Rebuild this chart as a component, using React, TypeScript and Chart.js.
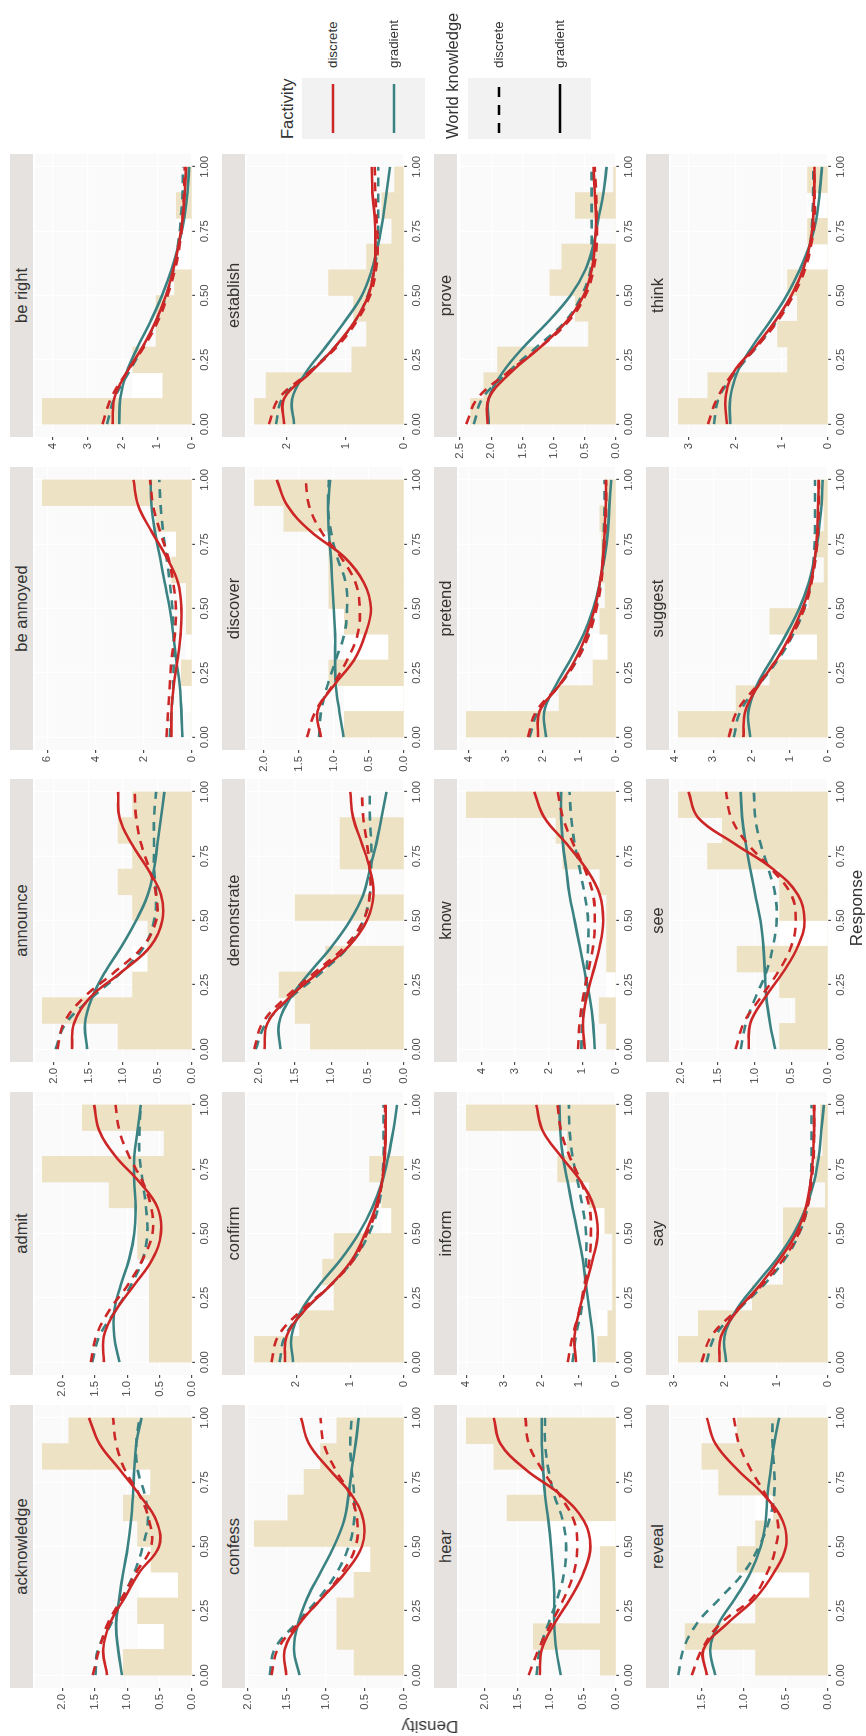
import React, { useEffect, useRef } from "react";
import { Chart, registerables } from "chart.js";

Chart.register(...registerables);

// ---------- data ----------
const verbs: string[] = [
  "acknowledge", "admit", "announce", "be annoyed", "be right",
  "confess", "confirm", "demonstrate", "discover", "establish",
  "hear", "inform", "know", "pretend", "prove",
  "reveal", "say", "see", "suggest", "think",
];

// response values where the density curves are sampled
const responseGrid: number[] = [0, 0.1, 0.2, 0.3, 0.4, 0.5, 0.6, 0.7, 0.8, 0.9, 1];
// histogram bin centres (bin width 0.1)
const binCenters: number[] = [0.05, 0.15, 0.25, 0.35, 0.45, 0.55, 0.65, 0.75, 0.85, 0.95];
const xTickValues: number[] = [0, 0.25, 0.5, 0.75, 1];

// observed-response histogram (density) per verb
const histogram: number[][] = [
  [1.06, 0.43, 0.84, 0.21, 0.63, 0.84, 1.06, 0.64, 2.31, 1.90],
  [0.66, 0.66, 0.66, 0.66, 0.84, 0.84, 1.28, 2.31, 0.43, 1.69],
  [1.07, 2.17, 0.86, 0.64, 0.64, 0.86, 1.07, 0.86, 1.07, 0.86],
  [0.0, 0.0, 0.44, 0.0, 0.23, 0.23, 0.85, 0.65, 1.50, 6.21],
  [4.30, 0.84, 1.70, 1.03, 1.03, 0.50, 0.0, 0.0, 0.45, 0.15],
  [0.64, 0.86, 0.86, 0.64, 0.43, 1.92, 1.49, 1.28, 1.07, 0.86],
  [2.78, 1.94, 1.30, 1.51, 1.30, 0.23, 0.41, 0.64, 0.0, 0.0],
  [1.29, 1.50, 1.72, 1.08, 0.0, 1.50, 0.0, 0.88, 0.88, 0.0],
  [0.85, 0.0, 1.07, 0.22, 0.85, 1.07, 1.07, 1.07, 1.71, 2.13],
  [2.56, 2.36, 0.89, 0.64, 0.86, 1.29, 0.64, 0.21, 0.38, 0.16],
  [0.24, 1.26, 0.24, 0.24, 0.24, 0.0, 1.66, 1.06, 1.86, 2.28],
  [0.49, 0.22, 0.09, 0.09, 0.09, 0.30, 0.71, 1.56, 1.30, 4.00],
  [0.28, 0.50, 0.0, 0.28, 0.28, 0.28, 0.48, 1.58, 1.78, 4.45],
  [4.07, 1.55, 0.62, 0.22, 0.44, 0.30, 0.40, 0.40, 0.44, 0.30],
  [2.33, 2.12, 1.90, 0.44, 0.65, 1.06, 0.87, 0.0, 0.65, 0.04],
  [0.86, 1.70, 0.86, 0.22, 1.08, 0.86, 0.65, 1.30, 1.50, 1.08],
  [2.91, 2.52, 1.47, 0.87, 0.87, 0.87, 0.05, 0.24, 0.10, 0.15],
  [0.66, 0.44, 0.66, 1.24, 0.0, 0.66, 0.66, 1.64, 1.44, 2.04],
  [3.91, 2.40, 1.52, 0.28, 1.52, 0.50, 0.10, 0.32, 0.10, 0.28],
  [3.23, 2.59, 0.87, 1.09, 0.66, 0.87, 0.0, 0.44, 0.0, 0.44],
];

// pale (white) bars visible behind the histogram
const whiteBins: number[][] = [
  [0, 0.84, 0, 0.81, 0.84, 0, 0, 0.81, 0, 0],
  [0, 0, 0, 0, 0, 0, 0, 0, 0, 0],
  [0, 0, 0, 0.86, 0, 0, 0, 0, 0, 0],
  [0, 0.44, 0, 0.23, 0, 0, 0, 1.13, 0, 0],
  [0, 1.70, 0, 0, 0, 0, 0.45, 0.45, 0, 0],
  [0, 0, 0, 0, 0.64, 0, 0, 0, 0, 0],
  [0, 0, 0, 0, 0, 0.41, 0, 0, 0, 0],
  [0, 0, 0, 0, 0, 0, 0, 0, 0, 0],
  [0, 0.85, 0, 0.85, 1.07, 0, 0, 0, 0, 0],
  [0, 0, 0, 0, 0, 0, 0, 0, 0, 0],
  [0, 0, 0, 0, 0, 1.06, 0, 0, 0, 0],
  [0, 0.49, 0, 0, 0, 0.71, 0, 0, 0, 0],
  [0, 0, 0.28, 0, 0, 0, 0, 0, 0, 0],
  [0, 0, 0, 0.62, 0, 0, 0, 0, 0, 0],
  [0, 0, 0, 0, 0, 0, 0, 0, 0, 0],
  [0, 0, 0, 0.86, 0, 0, 0.86, 0, 0, 0],
  [0, 0, 0, 0, 0, 0, 0, 0, 0, 0],
  [0, 0, 0, 0, 0.66, 0, 0, 0, 0, 0],
  [0, 0, 0, 1.52, 0, 0, 0, 0, 0, 0],
  [0, 0, 0, 0, 0, 0, 0.44, 0, 0.44, 0],
];

// Factivity discrete (red) x World knowledge gradient (solid)
const factDiscWkGrad: number[][] = [
  [1.31, 1.37, 1.27, 1.04, 0.81, 0.51, 0.55, 0.81, 1.12, 1.43, 1.59],
  [1.36, 1.36, 1.18, 0.89, 0.61, 0.48, 0.53, 0.81, 1.18, 1.43, 1.51],
  [1.74, 1.71, 1.48, 1.02, 0.60, 0.43, 0.45, 0.64, 0.88, 1.05, 1.07],
  [0.85, 0.85, 0.76, 0.60, 0.47, 0.44, 0.58, 1.06, 1.68, 2.23, 2.43],
  [2.28, 2.23, 1.88, 1.42, 1.04, 0.75, 0.54, 0.38, 0.27, 0.21, 0.17],
  [1.51, 1.53, 1.34, 1.05, 0.75, 0.54, 0.52, 0.67, 0.96, 1.22, 1.32],
  [2.21, 2.18, 1.85, 1.36, 0.96, 0.72, 0.53, 0.41, 0.36, 0.34, 0.34],
  [1.92, 1.88, 1.58, 1.17, 0.76, 0.51, 0.42, 0.47, 0.58, 0.70, 0.74],
  [1.18, 1.23, 1.00, 0.71, 0.55, 0.47, 0.57, 0.85, 1.33, 1.66, 1.81],
  [2.05, 2.05, 1.60, 1.18, 0.84, 0.61, 0.51, 0.49, 0.50, 0.54, 0.55],
  [1.16, 1.13, 0.94, 0.69, 0.49, 0.39, 0.49, 0.84, 1.38, 1.76, 1.86],
  [1.07, 1.11, 0.98, 0.80, 0.62, 0.49, 0.58, 0.93, 1.47, 1.96, 2.13],
  [0.93, 0.98, 0.88, 0.68, 0.48, 0.38, 0.48, 0.88, 1.48, 2.13, 2.43],
  [2.12, 2.08, 1.55, 1.11, 0.80, 0.58, 0.44, 0.35, 0.31, 0.28, 0.27],
  [2.06, 2.04, 1.69, 1.21, 0.79, 0.52, 0.39, 0.34, 0.32, 0.34, 0.36],
  [1.44, 1.48, 1.20, 0.86, 0.64, 0.50, 0.54, 0.76, 1.08, 1.34, 1.44],
  [2.11, 2.08, 1.76, 1.32, 0.94, 0.62, 0.43, 0.34, 0.29, 0.27, 0.27],
  [1.08, 1.06, 0.86, 0.61, 0.41, 0.32, 0.41, 0.75, 1.28, 1.77, 1.90],
  [2.21, 2.16, 1.82, 1.35, 0.97, 0.67, 0.45, 0.34, 0.28, 0.26, 0.24],
  [2.18, 2.21, 2.04, 1.57, 1.14, 0.79, 0.54, 0.39, 0.32, 0.30, 0.29],
];

// Factivity discrete (red) x World knowledge discrete (dashed)
const factDiscWkDisc: number[][] = [
  [1.53, 1.43, 1.30, 1.08, 0.86, 0.63, 0.66, 0.81, 1.04, 1.17, 1.22],
  [1.56, 1.48, 1.28, 0.99, 0.76, 0.61, 0.63, 0.76, 0.97, 1.12, 1.18],
  [1.95, 1.86, 1.57, 1.12, 0.71, 0.52, 0.52, 0.62, 0.74, 0.81, 0.83],
  [1.06, 0.99, 0.92, 0.85, 0.71, 0.67, 0.78, 0.99, 1.33, 1.61, 1.74],
  [2.57, 2.33, 1.88, 1.38, 0.98, 0.70, 0.49, 0.35, 0.27, 0.23, 0.21],
  [1.70, 1.62, 1.36, 1.05, 0.79, 0.62, 0.60, 0.69, 0.88, 1.03, 1.07],
  [2.46, 2.34, 1.91, 1.36, 0.93, 0.69, 0.50, 0.41, 0.36, 0.35, 0.35],
  [2.06, 1.95, 1.63, 1.22, 0.81, 0.56, 0.47, 0.47, 0.51, 0.56, 0.58],
  [1.38, 1.26, 1.02, 0.81, 0.66, 0.63, 0.69, 0.90, 1.18, 1.35, 1.40],
  [2.31, 2.14, 1.63, 1.15, 0.81, 0.58, 0.48, 0.45, 0.47, 0.49, 0.50],
  [1.33, 1.18, 0.99, 0.79, 0.64, 0.59, 0.64, 0.86, 1.13, 1.33, 1.38],
  [1.29, 1.16, 0.98, 0.84, 0.71, 0.67, 0.71, 0.93, 1.24, 1.47, 1.56],
  [1.13, 1.08, 0.98, 0.83, 0.68, 0.63, 0.68, 0.93, 1.28, 1.58, 1.73],
  [2.39, 2.17, 1.55, 1.06, 0.73, 0.53, 0.40, 0.34, 0.29, 0.27, 0.27],
  [2.40, 2.22, 1.74, 1.21, 0.76, 0.49, 0.36, 0.31, 0.31, 0.32, 0.34],
  [1.62, 1.50, 1.28, 0.90, 0.72, 0.62, 0.60, 0.74, 0.92, 1.06, 1.12],
  [2.46, 2.27, 1.79, 1.28, 0.87, 0.57, 0.40, 0.32, 0.28, 0.27, 0.27],
  [1.26, 1.15, 0.92, 0.68, 0.50, 0.44, 0.50, 0.77, 1.10, 1.32, 1.39],
  [2.59, 2.38, 1.86, 1.35, 0.92, 0.62, 0.43, 0.32, 0.26, 0.24, 0.24],
  [2.59, 2.39, 2.04, 1.54, 1.09, 0.75, 0.50, 0.36, 0.29, 0.29, 0.30],
];

// Factivity gradient (teal) x World knowledge gradient (solid)
const factGradWkGrad: number[][] = [
  [1.08, 1.14, 1.17, 1.12, 1.06, 0.99, 0.94, 0.91, 0.89, 0.86, 0.78],
  [1.12, 1.20, 1.20, 1.10, 0.97, 0.89, 0.87, 0.89, 0.89, 0.84, 0.79],
  [1.52, 1.55, 1.45, 1.26, 1.02, 0.81, 0.64, 0.55, 0.50, 0.45, 0.40],
  [0.40, 0.44, 0.51, 0.65, 0.78, 0.92, 1.13, 1.33, 1.54, 1.68, 1.72],
  [2.09, 2.06, 1.88, 1.56, 1.19, 0.86, 0.59, 0.38, 0.22, 0.13, 0.08],
  [1.34, 1.41, 1.36, 1.24, 1.07, 0.90, 0.77, 0.71, 0.67, 0.62, 0.58],
  [2.06, 2.09, 1.91, 1.57, 1.17, 0.84, 0.59, 0.41, 0.29, 0.20, 0.13],
  [1.70, 1.72, 1.56, 1.29, 0.99, 0.74, 0.56, 0.47, 0.38, 0.31, 0.24],
  [0.86, 0.92, 0.97, 0.98, 0.98, 1.00, 1.02, 1.04, 1.07, 1.08, 1.05],
  [1.88, 1.91, 1.68, 1.34, 1.01, 0.72, 0.55, 0.44, 0.36, 0.30, 0.24],
  [0.84, 0.91, 0.94, 0.94, 0.96, 0.99, 1.03, 1.08, 1.11, 1.13, 1.13],
  [0.58, 0.62, 0.71, 0.80, 0.89, 1.02, 1.16, 1.29, 1.42, 1.49, 1.51],
  [0.63, 0.68, 0.78, 0.93, 1.08, 1.23, 1.38, 1.48, 1.58, 1.63, 1.63],
  [1.90, 1.95, 1.64, 1.24, 0.88, 0.62, 0.44, 0.31, 0.22, 0.18, 0.13],
  [2.04, 2.04, 1.82, 1.48, 1.08, 0.73, 0.49, 0.36, 0.28, 0.20, 0.15],
  [1.34, 1.40, 1.30, 1.10, 0.92, 0.80, 0.74, 0.72, 0.68, 0.64, 0.58],
  [1.98, 2.01, 1.79, 1.41, 1.00, 0.67, 0.43, 0.27, 0.18, 0.13, 0.08],
  [0.72, 0.79, 0.84, 0.86, 0.88, 0.92, 0.99, 1.06, 1.12, 1.17, 1.19],
  [2.03, 2.08, 1.86, 1.48, 1.09, 0.75, 0.50, 0.34, 0.24, 0.17, 0.14],
  [2.11, 2.11, 1.96, 1.64, 1.25, 0.89, 0.61, 0.39, 0.25, 0.18, 0.13],
];

// Factivity gradient (teal) x World knowledge discrete (dashed)
const factGradWkDisc: number[][] = [
  [1.49, 1.45, 1.25, 1.07, 0.89, 0.76, 0.68, 0.73, 0.84, 0.86, 0.81],
  [1.54, 1.43, 1.18, 0.94, 0.76, 0.69, 0.71, 0.76, 0.81, 0.81, 0.79],
  [1.98, 1.83, 1.45, 1.02, 0.69, 0.55, 0.52, 0.55, 0.55, 0.55, 0.52],
  [0.92, 0.85, 0.78, 0.76, 0.76, 0.81, 0.92, 1.06, 1.20, 1.30, 1.36],
  [2.44, 2.23, 1.82, 1.41, 1.03, 0.74, 0.53, 0.40, 0.32, 0.27, 0.26],
  [1.72, 1.66, 1.39, 1.09, 0.86, 0.71, 0.64, 0.64, 0.67, 0.69, 0.67],
  [2.31, 2.21, 1.85, 1.36, 0.93, 0.65, 0.48, 0.41, 0.38, 0.38, 0.38],
  [2.04, 1.90, 1.56, 1.13, 0.76, 0.56, 0.47, 0.45, 0.45, 0.47, 0.47],
  [1.21, 1.18, 1.09, 0.97, 0.85, 0.81, 0.83, 0.95, 1.04, 1.08, 1.07],
  [2.19, 2.08, 1.63, 1.18, 0.84, 0.62, 0.51, 0.45, 0.44, 0.44, 0.44],
  [1.21, 1.16, 1.03, 0.89, 0.79, 0.76, 0.81, 0.94, 1.03, 1.08, 1.08],
  [1.16, 1.07, 0.93, 0.84, 0.80, 0.80, 0.89, 1.02, 1.16, 1.24, 1.26],
  [1.03, 1.00, 0.93, 0.88, 0.83, 0.83, 0.93, 1.08, 1.23, 1.33, 1.38],
  [2.35, 2.12, 1.55, 1.06, 0.75, 0.55, 0.42, 0.35, 0.33, 0.31, 0.31],
  [2.28, 2.14, 1.74, 1.27, 0.81, 0.55, 0.41, 0.39, 0.39, 0.39, 0.39],
  [1.78, 1.72, 1.56, 1.28, 1.00, 0.82, 0.70, 0.64, 0.64, 0.66, 0.66],
  [2.36, 2.20, 1.76, 1.25, 0.84, 0.56, 0.40, 0.34, 0.32, 0.32, 0.32],
  [1.19, 1.12, 0.99, 0.84, 0.75, 0.70, 0.72, 0.81, 0.92, 0.99, 1.01],
  [2.46, 2.29, 1.82, 1.31, 0.91, 0.62, 0.45, 0.37, 0.34, 0.34, 0.34],
  [2.46, 2.36, 2.00, 1.54, 1.11, 0.79, 0.54, 0.39, 0.34, 0.32, 0.32],
];

// y tick step per panel
const yTickStep: number[] = [
  0.5, 0.5, 0.5, 2, 1,
  0.5, 1, 0.5, 0.5, 1,
  0.5, 1, 1, 1, 0.5,
  0.5, 1, 0.5, 1, 1,
];

// ---------- styling / layout ----------
const FONT = "'Liberation Sans', Arial, Helvetica, sans-serif";
const RED = "#CD2626";
const TEAL = "#3B8282";
const BEIGE = "#EEE2C5";
const PANEL_BG = "#FAFAFA";
const STRIP_BG = "#E6E2DF";
const DARK = "#333333";
const TICK_TEXT = "#4D4D4D";

const PW = 283;
const PH = 159;
const PANEL_LEFT = [48, 361, 674, 986, 1299];
const PANEL_TOP = [33, 245, 457, 669];
const PAD_L = 40;
const PAD_T = 8;
const PAD_R = 6;
const AX_H = 24;
const CW = PAD_L + PW + PAD_R;
const CH = PAD_T + PH + AX_H;

const panelBackground = {
  id: "panelBackground",
  beforeDraw(chart: any) {
    const { ctx, chartArea: a } = chart;
    ctx.save();
    ctx.fillStyle = PANEL_BG;
    ctx.fillRect(a.left, a.top, a.right - a.left, a.bottom - a.top);
    ctx.restore();
  },
};

function Panel({ idx }: { idx: number }) {
  const ref = useRef<HTMLCanvasElement>(null);
  const row = Math.floor(idx / 5);
  const col = idx % 5;
  const left = PANEL_LEFT[col];
  const top = PANEL_TOP[row];

  useEffect(() => {
    const allValues = [
      ...histogram[idx],
      ...factDiscWkGrad[idx],
      ...factDiscWkDisc[idx],
      ...factGradWkGrad[idx],
      ...factGradWkDisc[idx],
    ];
    const yMax = 1.05 * Math.max(...allValues);
    const step = yTickStep[idx];
    const yTicks: number[] = [];
    for (let v = 0; v <= yMax + 1e-9; v += step) yTicks.push(Math.round(v * 1000) / 1000);
    const dec = step < 1 ? 1 : 0;

    const curve = (vals: number[], color: string, dashed: boolean, order: number) => ({
      type: "line" as const,
      data: responseGrid.map((x, k) => ({ x, y: vals[k] })),
      borderColor: color,
      borderWidth: 2.6,
      borderDash: dashed ? [9, 7] : [],
      pointRadius: 0,
      tension: 0.4,
      fill: false,
      order,
    });

    const chart = new Chart(ref.current as HTMLCanvasElement, {
      type: "bar",
      data: {
        datasets: [
          curve(factDiscWkGrad[idx], RED, false, 0),
          curve(factDiscWkDisc[idx], RED, true, 1),
          curve(factGradWkGrad[idx], TEAL, false, 2),
          curve(factGradWkDisc[idx], TEAL, true, 3),
          {
            type: "bar" as const,
            data: binCenters.map((x, k) => ({ x, y: histogram[idx][k] })),
            backgroundColor: BEIGE,
            borderWidth: 0,
            grouped: false,
            barPercentage: 1,
            categoryPercentage: 1,
            order: 10,
          },
          {
            type: "bar" as const,
            data: binCenters.map((x, k) => ({ x, y: whiteBins[idx][k] })),
            backgroundColor: "#FFFFFF",
            borderWidth: 0,
            grouped: false,
            barPercentage: 1,
            categoryPercentage: 1,
            order: 11,
          },
        ] as any,
      },
      options: {
        animation: false,
        responsive: false,
        devicePixelRatio: 1,
        layout: { autoPadding: false, padding: { top: PAD_T, right: PAD_R, left: 0, bottom: 0 } },
        plugins: { legend: { display: false }, tooltip: { enabled: false } },
        scales: {
          x: {
            type: "linear",
            min: -0.05,
            max: 1.05,
            offset: false,
            afterBuildTicks: (s: any) => {
              s.ticks = xTickValues.map((v) => ({ value: v }));
            },
            afterFit: (s: any) => {
              s.height = AX_H;
            },
            ticks: {
              autoSkip: false,
              maxRotation: 0,
              minRotation: 0,
              padding: 3,
              color: TICK_TEXT,
              font: { family: FONT, size: 11.3 },
              callback: (v: any) => Number(v).toFixed(2),
            },
            grid: { color: "#FFFFFF", lineWidth: 1.2, tickColor: TICK_TEXT, tickLength: 3, offset: false, drawTicks: true },
            border: { display: false },
          },
          y: {
            type: "linear",
            min: 0,
            max: yMax,
            afterBuildTicks: (s: any) => {
              s.ticks = yTicks.map((v) => ({ value: v }));
            },
            afterFit: (s: any) => {
              s.width = PAD_L;
            },
            ticks: {
              autoSkip: false,
              padding: 3,
              color: TICK_TEXT,
              font: { family: FONT, size: 11.3 },
              callback: (v: any) => Number(v).toFixed(dec),
            },
            grid: { color: "#FFFFFF", lineWidth: 1.2, tickColor: TICK_TEXT, tickLength: 3, drawTicks: true },
            border: { display: false },
          },
        },
      } as any,
      plugins: [panelBackground],
    });
    return () => chart.destroy();
  }, [idx]);

  return (
    <>
      <div
        style={{
          position: "absolute",
          left,
          top: top - 23,
          width: PW,
          height: 23,
          background: STRIP_BG,
          color: DARK,
          fontSize: 16.5,
          lineHeight: "23px",
          textAlign: "center",
          whiteSpace: "nowrap",
        }}
      >
        {verbs[idx]}
      </div>
      <canvas
        ref={ref}
        width={CW}
        height={CH}
        style={{ position: "absolute", left: left - PAD_L, top: top - PAD_T, width: CW, height: CH }}
      />
    </>
  );
}

function Legend() {
  const label = (text: string, y: number) => (
    <div
      style={{
        position: "absolute",
        left: 1668,
        top: y - 9,
        fontSize: 13.3,
        lineHeight: "18px",
        color: DARK,
        whiteSpace: "nowrap",
      }}
    >
      {text}
    </div>
  );
  const title = (text: string, y: number) => (
    <div
      style={{
        position: "absolute",
        left: 1597,
        top: y - 11,
        fontSize: 16.5,
        lineHeight: "22px",
        color: DARK,
        whiteSpace: "nowrap",
      }}
    >
      {text}
    </div>
  );
  return (
    <>
      {title("Factivity", 287)}
      <svg style={{ position: "absolute", left: 1597, top: 302 }} width={61} height={123}>
        <rect x={0} y={0} width={61} height={123} fill="#F2F2F2" />
        <line x1={6} x2={55} y1={31} y2={31} stroke={RED} strokeWidth={2.7} />
        <line x1={6} x2={55} y1={92} y2={92} stroke={TEAL} strokeWidth={2.7} />
      </svg>
      {label("discrete", 333)}
      {label("gradient", 394)}
      {title("World knowledge", 452)}
      <svg style={{ position: "absolute", left: 1597, top: 468 }} width={61} height={123}>
        <rect x={0} y={0} width={61} height={123} fill="#F2F2F2" />
        <line x1={6} x2={55} y1={31} y2={31} stroke="#000" strokeWidth={2.7} strokeDasharray="10 8" />
        <line x1={6} x2={55} y1={92} y2={92} stroke="#000" strokeWidth={2.7} />
      </svg>
      {label("discrete", 499)}
      {label("gradient", 560)}
    </>
  );
}

export default function App() {
  return (
    <div
      style={{
        position: "absolute",
        left: 0,
        top: 0,
        width: 866,
        height: 1736,
        overflow: "hidden",
        background: "#FFFFFF",
      }}
    >
      <div
        style={{
          position: "absolute",
          left: 0,
          top: 0,
          width: 1736,
          height: 866,
          transformOrigin: "0 0",
          transform: "translateY(1736px) rotate(-90deg)",
          fontFamily: FONT,
          background: "#FFFFFF",
        }}
      >
        {verbs.map((_, i) => (
          <Panel key={i} idx={i} />
        ))}
        <div
          style={{
            position: "absolute",
            left: 10,
            top: 430,
            transform: "translate(-50%, -50%) rotate(-90deg)",
            fontSize: 17,
            color: DARK,
            whiteSpace: "nowrap",
          }}
        >
          Density
        </div>
        <div
          style={{
            position: "absolute",
            left: 828,
            top: 857,
            transform: "translate(-50%, -50%)",
            fontSize: 17,
            color: DARK,
            whiteSpace: "nowrap",
          }}
        >
          Response
        </div>
        <Legend />
      </div>
    </div>
  );
}
